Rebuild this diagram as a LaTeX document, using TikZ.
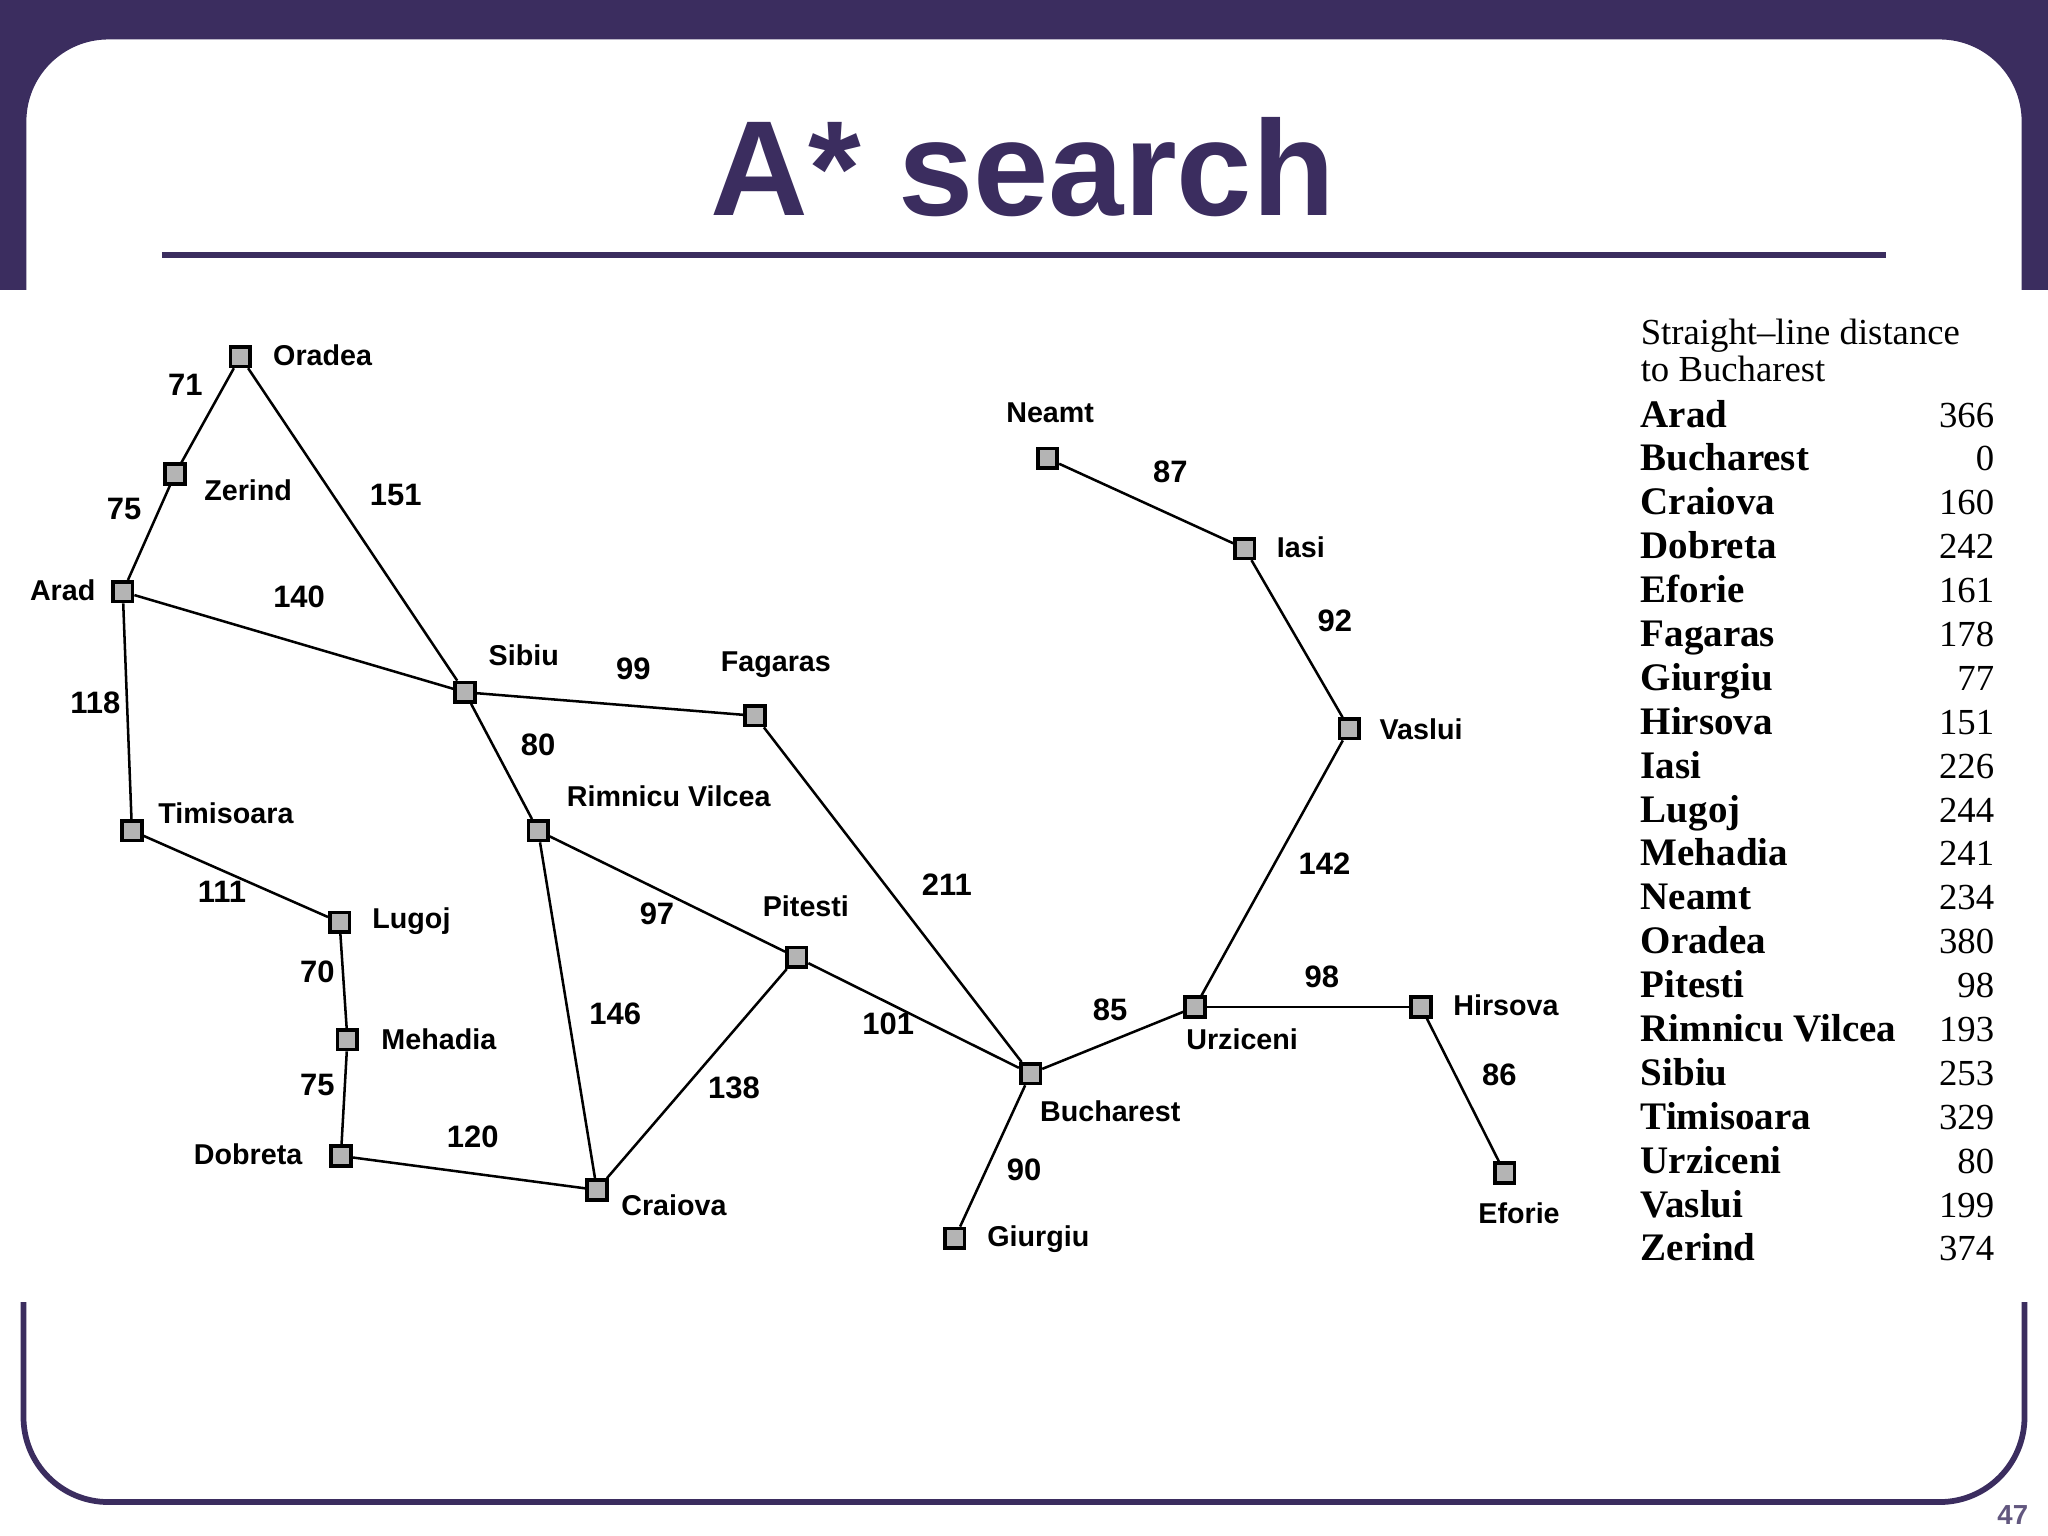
\documentclass[tikz,border=0pt]{standalone}
\usepackage{fontspec}
\setmainfont{Liberation Serif}
\setsansfont{Liberation Sans}
\definecolor{frame}{HTML}{3B2D5F}
\definecolor{sq}{HTML}{B4B4B4}
\begin{document}
\begin{tikzpicture}[x=0.02cm,y=-0.02cm,
  city/.style={draw=black,line width=1.6pt,fill=sq,minimum size=0.3cm,inner sep=0pt},
  nm/.style={font=\sffamily\bfseries\fontsize{12.5}{14}\selectfont},
  num/.style={font=\sffamily\bfseries\fontsize{13.5}{15}\selectfont},
  road/.style={line width=1.1pt},
  tname/.style={anchor=base west,font=\rmfamily\bfseries\fontsize{17}{19}\selectfont},
  tval/.style={anchor=base east,font=\rmfamily\fontsize{16}{18}\selectfont}]
\useasboundingbox (0,0) rectangle (1568,1176);
\fill[white] (0,0) rectangle (1568,1176);
\fill[frame] (0,0) rectangle (1568,222);
\draw[frame,line width=2.5pt,fill=white,rounded corners=1.3cm] (18,28) rectangle (1550,1150);
\fill[white] (0,222) rectangle (1568,997);
\node[font=\sffamily\bfseries\fontsize{59}{64}\selectfont,text=frame] (title) at (783,128) {A* search};
\draw[frame,line width=2.5pt] (124,195) -- (1444,195);
\node[font=\sffamily\bfseries\fontsize{12}{14}\selectfont,text=frame!80] (pg) at (1541,1160) {47};
% cities
\foreach \n/\x/\y in {Or/184/273,Ze/134/363,Ar/94/453,Si/356/530,Fa/578/548,Ti/101/636,Ri/412/636,Lu/260/706,Me/266/796,Do/261/885,Cr/457/911,Pi/610/733,Bu/789/822,Gi/731/948,Ur/915/771,Hi/1088/771,Ef/1152/898,Va/1033/558,Ia/953/420,Ne/802/351}
  \node[city] (\n) at (\x,\y) {};
\foreach \a/\b in {Or/Ze,Ze/Ar,Or/Si,Ar/Si,Ar/Ti,Ti/Lu,Lu/Me,Me/Do,Do/Cr,Si/Fa,Si/Ri,Ri/Pi,Ri/Cr,Cr/Pi,Pi/Bu,Fa/Bu,Bu/Gi,Bu/Ur,Ur/Hi,Hi/Ef,Ur/Va,Va/Ia,Ia/Ne}
  \draw[road] (\a) -- (\b);
% names
\foreach \t/\x/\y [count=\i] in {Oradea/247/272,Zerind/190/375,Arad/48/452,Sibiu/401/502,Fagaras/594/509,Timisoara/173/623,Rimnicu Vilcea/512/610,Lugoj/315/705,Mehadia/336/796,Dobreta/190/884,Craiova/516/923,Pitesti/617/694,Bucharest/850/851,Giurgiu/795/949,Urziceni/951/796,Hirsova/1153/770,Eforie/1163/929,Vaslui/1088/558,Iasi/996/419,Neamt/804/316}
  \node[nm] (name\i) at (\x,\y) {\t};
% distances
\foreach \t/\x/\y [count=\i] in {71/142/295,75/95/390,151/303/379,140/229/457,118/73/538,99/485/512,80/412/570,111/170/683,70/243/744,75/243/831,120/362/870,146/471/776,97/503/700,138/562/833,211/725/677,101/680/784,85/850/773,90/784/896,98/1012/748,86/1148/823,142/1014/661,92/1022/475,87/896/361}
  \node[num] (d\i) at (\x,\y) {\t};
% table
\node[anchor=base west,font=\rmfamily\fontsize{16}{18}\selectfont] (h1) at (1250,264) {Straight--line distance};
\node[anchor=base west,font=\rmfamily\fontsize{16}{18}\selectfont] (h2) at (1250,292) {to Bucharest};
\foreach \t/\v [count=\i] in {Arad/366,Bucharest/0,Craiova/160,Dobreta/242,Eforie/161,Fagaras/178,Giurgiu/77,Hirsova/151,Iasi/226,Lugoj/244,Mehadia/241,Neamt/234,Oradea/380,Pitesti/98,Rimnicu Vilcea/193,Sibiu/253,Timisoara/329,Urziceni/80,Vaslui/199,Zerind/374}{
  \pgfmathsetmacro{\yy}{327+(\i-1)*33.6}
  \node[tname] (tn\i) at (1250,\yy) {\t};
  \node[tval] (tv\i) at (1533,\yy) {\v};
}
\end{tikzpicture}
\end{document}
